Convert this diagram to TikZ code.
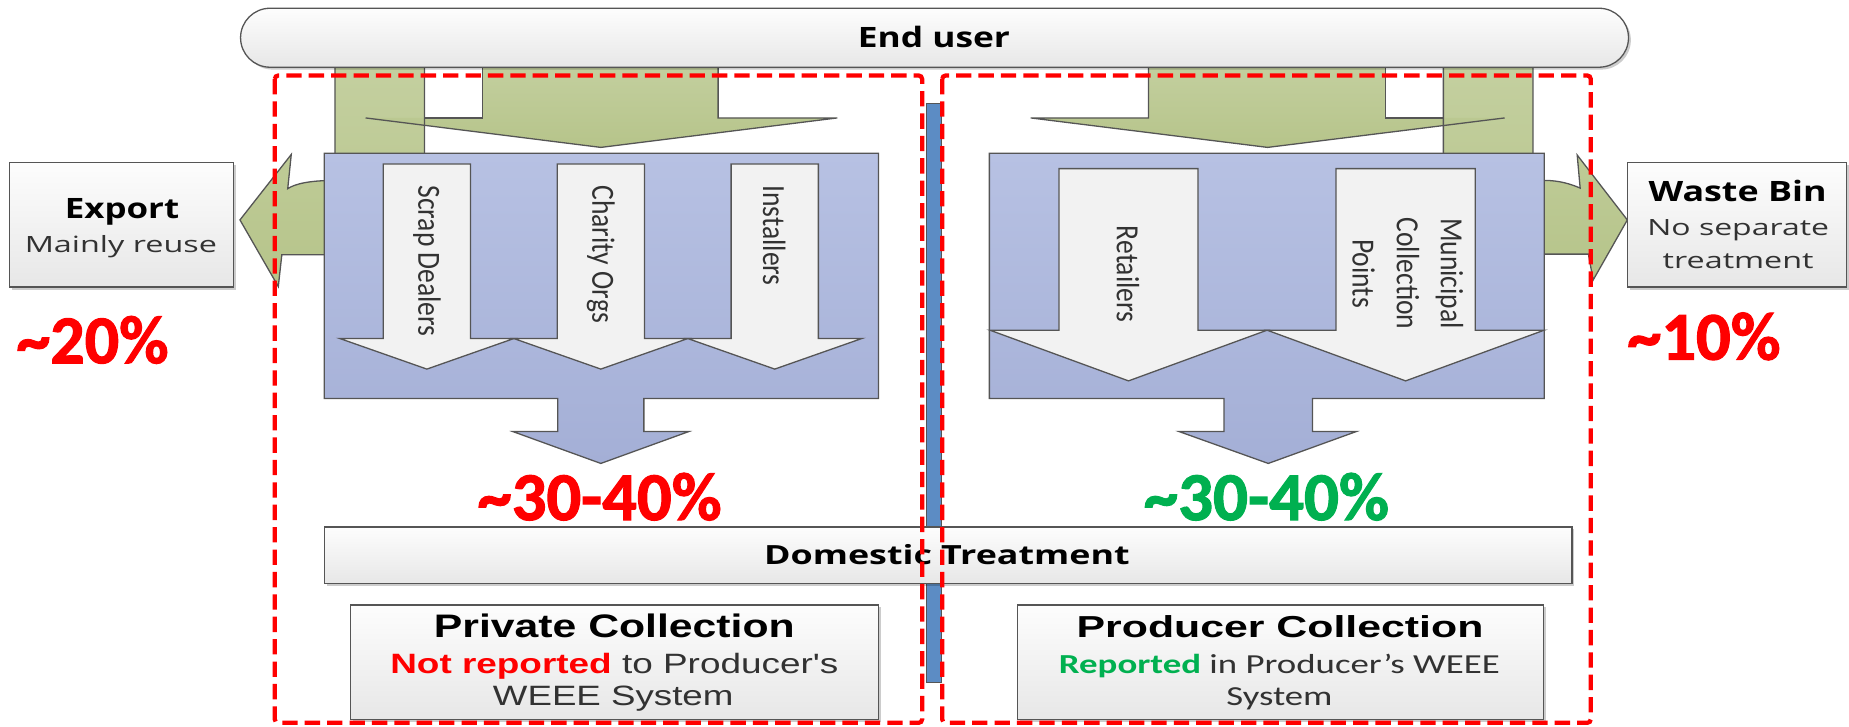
\documentclass[tikz,border=0pt]{standalone}
\usepackage{fontspec}
\usepackage{graphicx}
\setmainfont{Carlito}
\newfontfamily\osans{Open Sans}
\newfontfamily\carl{Carlito}
\newfontfamily\pctfont{Carlito}[BoldFeatures={FakeBold=1.6}]
\newfontfamily\lib{Liberation Sans}
\usetikzlibrary{shadows}
\definecolor{edgegrey}{RGB}{85,85,85}
\definecolor{boxtop}{RGB}{253,253,253}
\definecolor{boxbot}{RGB}{231,231,231}
\definecolor{greentop}{RGB}{196,208,160}
\definecolor{greenbot}{RGB}{182,196,138}
\definecolor{bluetop}{RGB}{183,193,227}
\definecolor{bluebot}{RGB}{164,175,214}
\definecolor{arrowfill}{RGB}{242,242,242}
\definecolor{barblue}{RGB}{92,140,196}
\definecolor{pctred}{RGB}{255,0,0}
\definecolor{pctgreen}{RGB}{0,176,80}
\definecolor{labelgrey}{RGB}{50,50,50}
\newcommand{\fitw}[2]{\resizebox{#1pt}{\height}{#2}}
\newcommand{\fs}[1]{\fontsize{#1}{#1}\selectfont}
\newcommand{\rotstretch}[1]{\scalebox{1}[1.17]{#1}}
\begin{document}
\begin{tikzpicture}[x=1pt, y=-1pt,
  outline/.style={draw=edgegrey, line width=1.1pt, line join=miter},
  whitebox/.style={outline, top color=boxtop, bottom color=boxbot, inner sep=0pt,
    drop shadow={shadow xshift=2pt, shadow yshift=-2pt, opacity=0.2, fill=black}},
  greenfill/.style={top color=greentop, bottom color=greenbot, draw=none},
  greenline/.style={draw=edgegrey, line width=1.1pt},
  bluefill/.style={outline, top color=bluetop, bottom color=bluebot},
  whitearrow/.style={outline, fill=arrowfill},
  lbl/.style={inner sep=0pt, anchor=base},
  rotlbl/.style={inner sep=0pt, rotate=-90, text=labelgrey, font=\carl\fs{23.4}},
  reddash/.style={draw=pctred, line width=3.6pt, dash pattern=on 13pt off 6pt, rounded corners=3pt},
  pct/.style={inner sep=0pt, anchor=base, font=\pctfont\bfseries\fs{58}}]
\useasboundingbox (0,0) rectangle (1568,616);

% separator bar
\path[draw=edgegrey, line width=0.8pt, fill=barblue] (786,87.5) rectangle (798,579);

% green flows (fills)
\path[greenfill] (284,50) -- (360,50) -- (360,216) -- (239,216) -- (236,243) -- (203.5,186.5) -- (247,131) -- (244,160) .. controls (250,156) and (262,153) .. (284,153) -- cycle;
\path[greenfill] (1224,50) -- (1300,50) -- (1300,153) -- (1310,153) .. controls (1322,153) and (1332,156) .. (1340,159.5) -- (1337.5,131.5) -- (1380,186.5) -- (1351,237.5) -- (1347,215.5) -- (1224,215.5) -- cycle;
\path[greenfill] (409,50) -- (609,50) -- (609,100) -- (710,100) -- (509.5,125) -- (310,100) -- (409,100) -- cycle;
\path[greenfill] (974,50) -- (1175,50) -- (1175,100) -- (1276,100) -- (1075,125) -- (874,100) -- (974,100) -- cycle;
% green outlines
\draw[greenline] (284,50) -- (360,50) -- (360,216) -- (239,216) -- (236,243) -- (203.5,186.5) -- (247,131) -- (244,160) .. controls (250,156) and (262,153) .. (284,153) -- cycle;
\draw[greenline] (1224,50) -- (1300,50) -- (1300,153) -- (1310,153) .. controls (1322,153) and (1332,156) .. (1340,159.5) -- (1337.5,131.5) -- (1380,186.5) -- (1351,237.5) -- (1347,215.5) -- (1224,215.5) -- cycle;
\draw[greenline] (409,50) -- (409,100) -- (360,100);
\draw[greenline] (310,100) -- (509.5,125) -- (710,100) -- (609,100) -- (609,50);
\draw[greenline] (1175,50) -- (1175,100) -- (1224,100);
\draw[greenline] (1276,100) -- (1075,125) -- (874,100) -- (974,100) -- (974,50);

% blue collection blocks
\path[bluefill] (275,130) -- (745,130) -- (745,338) -- (546,338) -- (546,366) -- (584,366) -- (509.5,393) -- (435,366) -- (473,366) -- (473,338) -- (275,338) -- cycle;
\path[bluefill] (839,130) -- (1309.5,130) -- (1309.5,338) -- (1113,338) -- (1113,366) -- (1150,366) -- (1075.5,393) -- (1000,366) -- (1038,366) -- (1038,338) -- (839,338) -- cycle;

% white channel arrows
\foreach \c in {362,509.5,657}{
  \path[whitearrow] (\c-37,139) -- (\c+37,139) -- (\c+37,287) -- (\c+74,287) -- (\c,313) -- (\c-74,287) -- (\c-37,287) -- cycle;
}
\foreach \c in {957,1192}{
  \path[whitearrow] (\c-59,143) -- (\c+59,143) -- (\c+59,280) -- (\c+117.5,280) -- (\c,323) -- (\c-117.5,280) -- (\c-59,280) -- cycle;
}
\node[rotlbl, anchor=west] (tscrap) at (362,157) {\rotstretch{Scrap Dealers}};
\node[rotlbl, anchor=west] (tcharity) at (509.5,157) {\rotstretch{Charity Orgs}};
\node[rotlbl, anchor=west] (tinstall) at (656.5,157) {\rotstretch{Installers}};
\node[rotlbl, anchor=center] (tretail) at (956.5,232.5) {\rotstretch{Retailers}};
\node[rotlbl, anchor=center] (tmuni) at (1192,232) {\rotstretch{\fontsize{23.4}{32}\selectfont\begin{tabular}{@{}c@{}}Municipal\\Collection\\Points\end{tabular}}};

% side boxes
\node[whitebox, minimum width=190pt, minimum height=105.5pt] (export) at (103,190.75) {};
\node[whitebox, minimum width=186pt, minimum height=105.5pt] (wastebin) at (1473,190.75) {};
\node[lbl] (texport) at (103.5,185) {\fitw{97}{\osans\bfseries\fs{23.8}Export}};
\node[lbl, text=labelgrey] (treuse) at (102.5,214) {\fitw{163}{\osans\fs{19}Mainly reuse}};
\node[lbl] (twaste) at (1473.5,171) {\fitw{151}{\osans\bfseries\fs{23.8}Waste Bin}};
\node[lbl, text=labelgrey] (tnosep) at (1474,200) {\fitw{154}{\osans\fs{19}No separate}};
\node[lbl, text=labelgrey] (ttreat) at (1474,227.5) {\fitw{128}{\osans\fs{19}treatment}};

% domestic treatment
\node[whitebox, minimum width=1058pt, minimum height=48pt] (domestic) at (804,471) {};
\node[lbl] (tdomestic) at (803,479) {\fitw{310}{\osans\bfseries\fs{22.4}Domestic Treatment}};

% collection boxes
\node[whitebox, minimum width=448pt, minimum height=97pt] (private) at (521,561.5) {};
\node[whitebox, minimum width=446pt, minimum height=97pt] (producer) at (1086,561.5) {};
\node[lbl] (tpriv) at (521,541) {\fitw{306}{\lib\bfseries\fs{27.6}Private Collection}};
\node[lbl, text=labelgrey] (tnot) at (521,571) {\fitw{380}{\lib\fs{23.7}\textcolor{pctred}{\bfseries Not reported} to Producer\textquotesingle s}};
\node[lbl, text=labelgrey] (tweeel) at (520,598) {\fitw{204}{\lib\fs{23.7}WEEE System}};
\node[lbl] (tprod) at (1085.5,541) {\fitw{345}{\lib\bfseries\fs{25.7}Producer Collection}};
\node[lbl, text=labelgrey] (trep) at (1085,571) {\fitw{374}{\carl\fs{23.3}\textcolor{pctgreen}{\bfseries Reported} in Producer’s WEEE}};
\node[lbl, text=labelgrey] (tsys) at (1085,598) {\fitw{90}{\carl\fs{23.3}System}};

% end user
\node[whitebox, rounded corners=25pt, minimum width=1177pt, minimum height=50pt] (enduser) at (792.5,32) {};
\node[lbl] (tenduser) at (792,40.5) {\fitw{129}{\osans\bfseries\fs{23.8}End user}};

% percentages
\node[pct, text=pctred] (p20) at (78.5,308) {\fitw{129}{\textasciitilde 20\%}};
\node[pct, text=pctred] (p10) at (1445,305) {\fitw{130}{\textasciitilde 10\%}};
\node[pct, text=pctred] (p3040l) at (508.5,441) {\fitw{207}{\textasciitilde 30-40\%}};
\node[pct, text=pctgreen] (p3040r) at (1074,441) {\fitw{208}{\textasciitilde 30-40\%}};

% red dashed frames
\draw[reddash] (233,64) rectangle (782,613);
\draw[reddash] (799,64) rectangle (1349,613);
\end{tikzpicture}
\end{document}
